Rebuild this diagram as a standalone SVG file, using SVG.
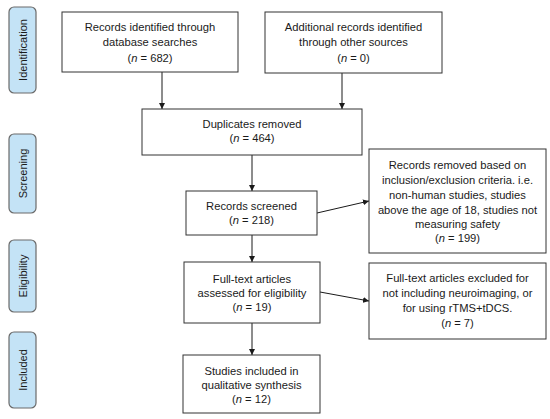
<svg xmlns="http://www.w3.org/2000/svg" width="550" height="419" viewBox="0 0 550 419">
<style>
.box{fill:#fff;stroke:#333;stroke-width:1}
.phase{fill:#c4e3f6;stroke:#6a6a6a;stroke-width:1.2}
text{font-family:"Liberation Sans",Arial,sans-serif;font-size:11.2px;fill:#1a1a1a;text-anchor:middle}
.pt{font-size:11px}
.c{stroke:#1a1a1a;stroke-width:1;fill:none;marker-end:url(#ah)}
</style>
<defs>
<marker id="ah" viewBox="0 0 10 10" refX="10" refY="5" markerWidth="6" markerHeight="6" markerUnits="userSpaceOnUse" orient="auto">
<path d="M0,0 L10,5 L0,10 z" fill="#1a1a1a"/>
</marker>
</defs>
<g id="phase-identification">
<rect class="phase" x="9" y="7" width="27" height="86" rx="5"/>
<text class="pt" transform="translate(26.5,50) rotate(-90)">Identification</text>
</g>
<g id="phase-screening">
<rect class="phase" x="9" y="134" width="27" height="79" rx="5"/>
<text class="pt" transform="translate(26.5,173.5) rotate(-90)">Screening</text>
</g>
<g id="phase-eligibility">
<rect class="phase" x="9" y="240" width="27" height="72" rx="5"/>
<text class="pt" transform="translate(26.5,276) rotate(-90)">Eligibility</text>
</g>
<g id="phase-included">
<rect class="phase" x="9" y="332" width="27" height="76" rx="5"/>
<text class="pt" transform="translate(26.5,370) rotate(-90)">Included</text>
</g>
<g id="connectors">
<line class="c" x1="162" y1="72" x2="162" y2="109"/>
<line class="c" x1="342" y1="73" x2="342" y2="109"/>
<line class="c" x1="252" y1="155" x2="252" y2="191"/>
<line class="c" x1="317" y1="213" x2="369" y2="201"/>
<line class="c" x1="252" y1="235" x2="252" y2="262"/>
<line class="c" x1="320" y1="292" x2="369" y2="301"/>
<line class="c" x1="252" y1="323" x2="252" y2="355"/>
</g>
<g id="records-db">
<rect class="box" x="62" y="12" width="176" height="60"/>
<text x="150" y="31">Records identified through</text>
<text x="150" y="46">database searches</text>
<text x="150" y="62">(<tspan font-style="italic">n</tspan> = 682)</text>
</g>
<g id="records-other">
<rect class="box" x="265" y="12" width="177" height="61"/>
<text x="353.5" y="31">Additional records identified</text>
<text x="353.5" y="46">through other sources</text>
<text x="353.5" y="62">(<tspan font-style="italic">n</tspan> = 0)</text>
</g>
<g id="duplicates">
<rect class="box" x="142" y="109" width="220" height="46"/>
<text x="252" y="128">Duplicates removed</text>
<text x="252" y="142">(<tspan font-style="italic">n</tspan> =  464)</text>
</g>
<g id="screened">
<rect class="box" x="186" y="191" width="131" height="44"/>
<text x="251.5" y="210">Records screened</text>
<text x="251.5" y="224">(<tspan font-style="italic">n</tspan> = 218)</text>
</g>
<g id="removed">
<rect class="box" x="369" y="149" width="177" height="104"/>
<text x="457.5" y="169">Records removed based on</text>
<text x="457.5" y="184">inclusion/exclusion criteria. i.e.</text>
<text x="457.5" y="199">non-human studies, studies</text>
<text x="457.5" y="214">above the age of 18, studies not</text>
<text x="457.5" y="228">measuring safety</text>
<text x="457.5" y="242">(<tspan font-style="italic">n</tspan> = 199)</text>
</g>
<g id="fulltext">
<rect class="box" x="184" y="262" width="136" height="61"/>
<text x="252" y="283">Full-text articles</text>
<text x="252" y="297">assessed for eligibility</text>
<text x="252" y="311">(<tspan font-style="italic">n</tspan> = 19)</text>
</g>
<g id="excluded">
<rect class="box" x="369" y="263" width="177" height="76"/>
<text x="457.5" y="282">Full-text articles excluded for</text>
<text x="457.5" y="297">not including neuroimaging, or</text>
<text x="457.5" y="312">for using rTMS+tDCS.</text>
<text x="457.5" y="327">(<tspan font-style="italic">n</tspan> = 7)</text>
</g>
<g id="included">
<rect class="box" x="183" y="355" width="137" height="58"/>
<text x="251.5" y="375">Studies included in</text>
<text x="251.5" y="389">qualitative synthesis</text>
<text x="251.5" y="403">(<tspan font-style="italic">n</tspan> = 12)</text>
</g>
</svg>
